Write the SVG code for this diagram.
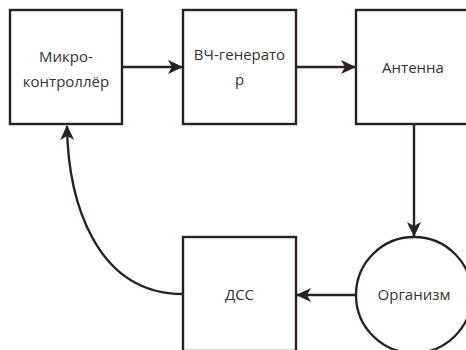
<svg xmlns="http://www.w3.org/2000/svg" width="466" height="350" viewBox="0 0 466 350">
<style>
.box{fill:#fff;stroke:#2a2222;stroke-width:2.4}
.ln{fill:none;stroke:#2a2222;stroke-width:2.4}
.t{font-family:"Open Sans","Noto Sans",sans-serif;font-size:15px;fill:#333;text-anchor:middle}
</style>
<defs>
<marker id="ah" viewBox="0 0 15 14" refX="14" refY="7" markerWidth="15" markerHeight="14" markerUnits="userSpaceOnUse" orient="auto">
<path d="M0,0 L15,7 L0,14 L4,7 Z" fill="#2a2222"/>
</marker>
</defs>
<rect width="466" height="350" fill="#fff"/>
<g id="connectors">
<line class="ln" x1="123" y1="67" x2="182" y2="67" marker-end="url(#ah)"/>
<line class="ln" x1="297" y1="67" x2="355" y2="67" marker-end="url(#ah)"/>
<line class="ln" x1="414" y1="125" x2="414" y2="236" marker-end="url(#ah)"/>
<line class="ln" x1="355" y1="295" x2="297" y2="295" marker-end="url(#ah)"/>
<path class="ln" d="M183,294 C95,294 68,200 67,126" marker-end="url(#ah)"/>
</g>
<g id="micro">
<rect class="box" x="10" y="10" width="112" height="114"/>
<text class="t" x="66" y="62">Микро-</text>
<text class="t" x="66" y="87">контроллёр</text>
</g>
<g id="gen">
<rect class="box" x="183" y="10" width="113" height="114"/>
<text class="t" x="239.5" y="60">ВЧ-генерато</text>
<text class="t" x="239.5" y="85">р</text>
</g>
<g id="antenna">
<rect class="box" x="356" y="10" width="114" height="114"/>
<text class="t" x="413" y="73">Антенна</text>
</g>
<g id="organism">
<circle class="box" cx="414" cy="295" r="58"/>
<text class="t" x="414" y="300">Организм</text>
</g>
<g id="dss">
<rect class="box" x="183" y="237" width="113" height="114"/>
<text class="t" x="239.5" y="300">ДСС</text>
</g>
</svg>
